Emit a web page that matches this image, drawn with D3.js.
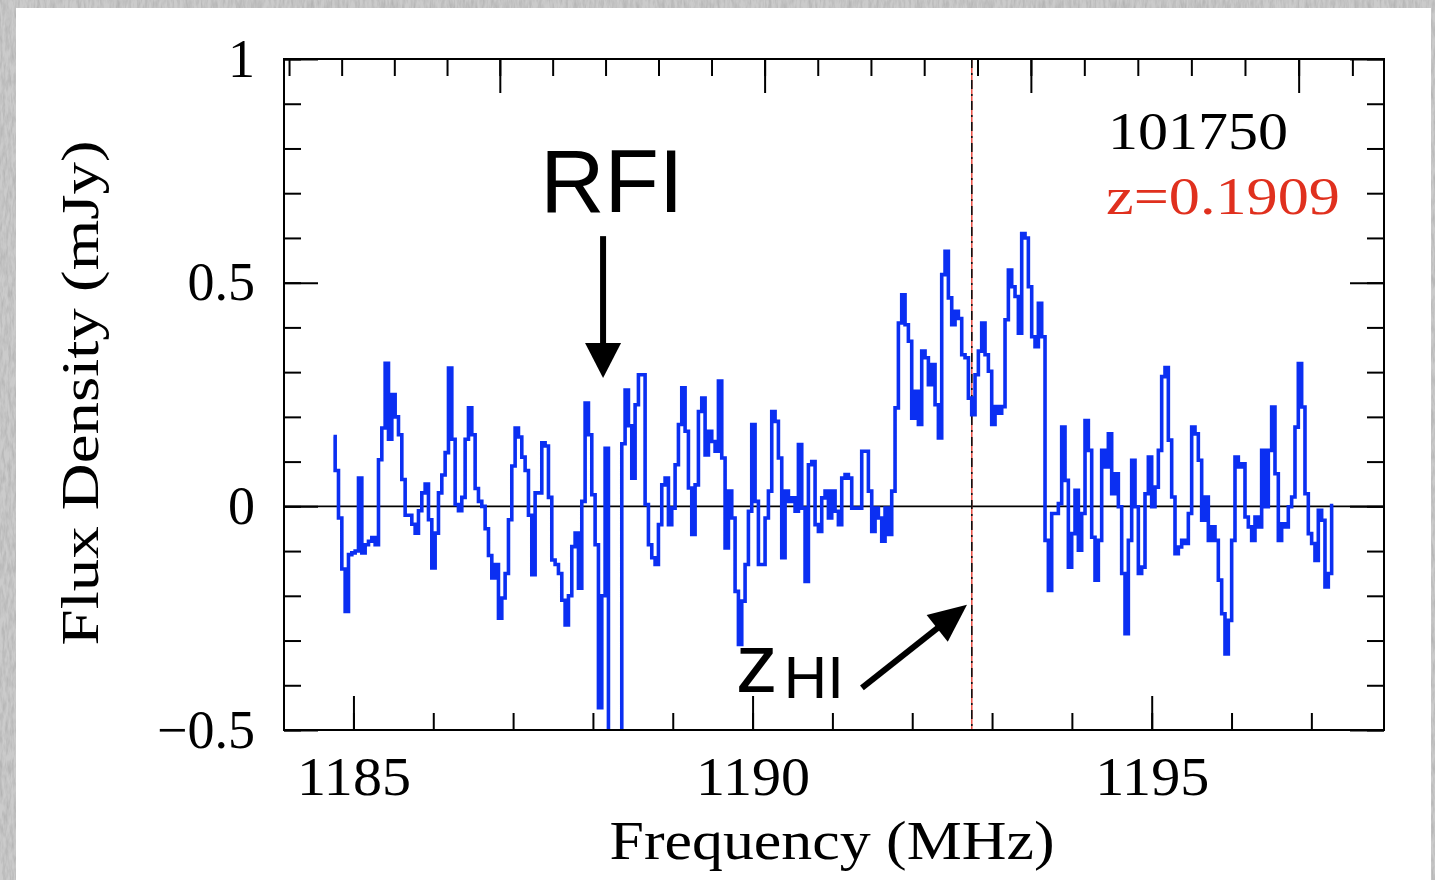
<!DOCTYPE html>
<html>
<head>
<meta charset="utf-8">
<script src="https://cdn.jsdelivr.net/npm/d3@7/dist/d3.min.js"></script>
<style>
  html, body { margin: 0; padding: 0; background: #c9c9c9; overflow: hidden; }
</style>
</head>
<body>
<script>
// HI spectrum of source 101750, channels
const freqStart = 1184.75;    // MHz, centre of first channel
const chanWidth = 0.04175;    // MHz per channel
const flux = [
  0.156, 0.08, -0.026, -0.14, -0.235, -0.108, -0.104, -0.1, 0.063, -0.104,
  -0.086, -0.078, -0.07, -0.086, 0.104, 0.175, 0.32, 0.15, 0.25, 0.2,
  0.16, 0.06, -0.02, -0.02, -0.04, -0.06, -0.01, 0.03, 0.05, -0.03,
  -0.138, -0.06, 0.03, 0.07, 0.12, 0.309, 0.15, 0.004, -0.01, 0.02,
  0.15, 0.22, 0.16, 0.04, 0.011, 0.0, -0.05, -0.11, -0.16, -0.13,
  -0.25, -0.205, -0.15, -0.03, 0.09, 0.175, 0.155, 0.11, 0.08, -0.02,
  -0.153, 0.03, 0.03, 0.142, 0.135, 0.02, -0.12, -0.13, -0.15, -0.21,
  -0.265, -0.2, -0.09, -0.06, -0.183, 0.011, 0.231, 0.16, 0.026, -0.086,
  -0.45, -0.2, 0.13, -0.9, -0.9, -0.9, -0.9, 0.14, 0.26, 0.18,
  0.063, 0.227, 0.294, 0.294, 0.004, -0.086, -0.115, -0.13, -0.041, 0.048,
  0.063, -0.041, -0.004, 0.093, 0.183, 0.265, 0.168, 0.041, -0.063, 0.048,
  0.212, 0.242, 0.115, 0.168, 0.145, 0.123, 0.28, 0.108, -0.093, 0.034,
  -0.026, -0.19, -0.309, -0.212, -0.13, -0.011, 0.183, 0.011, -0.13, -0.13,
  -0.026, 0.034, 0.212, 0.19, 0.108, -0.115, 0.034, 0.011, 0.019, -0.011,
  0.138, -0.004, -0.168, 0.093, 0.1, -0.041, -0.056, 0.019, 0.034, -0.026,
  0.034, -0.011, -0.041, 0.063, 0.071, 0.063, -0.004, -0.004, -0.004, 0.123,
  0.123, 0.034, -0.056, -0.004, -0.026, -0.078, -0.004, -0.063, 0.034, 0.22,
  0.41, 0.473, 0.406, 0.369, 0.197, 0.257, 0.183, 0.347, 0.332, 0.272,
  0.317, 0.227, 0.153, 0.518, 0.57, 0.466, 0.406, 0.436, 0.42, 0.339,
  0.332, 0.242, 0.205, 0.294, 0.347, 0.41, 0.339, 0.302, 0.183, 0.223,
  0.208, 0.223, 0.417, 0.528, 0.491, 0.469, 0.387, 0.61, 0.6, 0.491,
  0.379, 0.357, 0.454, 0.379, -0.076, -0.188, -0.016, -0.016, 0.006, 0.177,
  0.058, -0.136, -0.061, 0.036, -0.098, -0.016, 0.192, 0.125, -0.069, -0.165,
  -0.076, 0.125, 0.088, 0.162, 0.028, 0.073, -0.001, -0.15, -0.285, -0.076,
  0.103, -0.001, -0.15, -0.136, 0.028, 0.11, -0.001, 0.043, 0.125, 0.29,
  0.31, 0.148, 0.021, -0.106, -0.091, -0.076, -0.083, -0.016, 0.177, 0.162,
  0.103, -0.031, 0.021, -0.076, -0.046, -0.076, -0.165, -0.24, -0.33, -0.255,
  -0.076, 0.11, 0.088, 0.095, -0.024, -0.046, -0.076, -0.024, -0.046, 0.125,
  -0.001, 0.125, 0.222, 0.073, -0.076, -0.039, -0.046, -0.001, 0.021, 0.177,
  0.319, 0.222, 0.028, -0.061, -0.083, -0.121, -0.009, -0.031, -0.18, -0.15,
  0.002
];

const xMajorTicks = [1185, 1190, 1195];
const xMinorTicks = d3.range(1185, 1198, 1);
const yMajorTicks = [-0.5, 0, 0.5, 1];
const yMinorTicks = d3.range(-5, 11, 1).map(d => d / 10);
const yTickLabels = ["\u22120.5", "0", "0.5", "1"];
const velMajorTicks = [56000, 57000, 58000, 59000];   // km/s, top axis
const velMinorTicks = d3.range(55800, 59801, 200);
const sourceName = "101750";
const zHI = 0.19087;
const zLabel = "z=0.1909";

const restFreq = 1420.405751;   // MHz
const cLight = 299792.458;      // km/s
const velToFreq = v => restFreq / (1 + v / cLight);

const W = 1435, H = 880;
const plot = { left: 284, right: 1384, top: 59, bottom: 730 };
const serif = "'Liberation Serif', 'DejaVu Serif', serif";
const sans = "'Liberation Sans', Arial, sans-serif";

const svg = d3.select("body").append("svg")
  .attr("width", W).attr("height", H);

// textured grey backdrop and white slide panel
const defs = svg.append("defs");
const f = defs.append("filter").attr("id", "grain")
  .attr("x", 0).attr("y", 0).attr("width", "100%").attr("height", "100%");
f.append("feTurbulence").attr("type", "fractalNoise")
  .attr("baseFrequency", "0.35 0.08").attr("numOctaves", 3).attr("seed", 7);
f.append("feColorMatrix").attr("type", "matrix")
  .attr("values", "0 0 0 0 0.45  0 0 0 0 0.45  0 0 0 0 0.45  0 0 0 1.8 -0.6");
svg.append("rect").attr("width", W).attr("height", H).attr("fill", "#cbcbcb");
svg.append("rect").attr("width", W).attr("height", H).attr("filter", "url(#grain)");
svg.append("rect").attr("x", 16).attr("y", 8)
  .attr("width", 1415).attr("height", H - 8).attr("fill", "#fff");

defs.append("clipPath").attr("id", "plotClip").append("rect")
  .attr("x", plot.left).attr("y", plot.top)
  .attr("width", plot.right - plot.left).attr("height", plot.bottom - plot.top);

const x = d3.scaleLinear().domain([1184.13, 1197.91]).range([plot.left, plot.right]);
const y = d3.scaleLinear().domain([-0.5, 1]).range([plot.bottom, plot.top]);

const spectrum = flux.map((v, i) => ({ f: freqStart + i * chanWidth, v }));

// zero line
svg.append("line")
  .attr("x1", plot.left).attr("x2", plot.right)
  .attr("y1", y(0)).attr("y2", y(0))
  .attr("stroke", "#000").attr("stroke-width", 1.6);

// redshift marker
const fz = restFreq / (1 + zHI);
svg.append("line")
  .attr("x1", x(fz)).attr("x2", x(fz)).attr("y1", plot.top).attr("y2", plot.bottom)
  .attr("stroke", "#e8453a").attr("stroke-width", 1.4);
svg.append("line")
  .attr("x1", x(fz)).attr("x2", x(fz)).attr("y1", plot.top).attr("y2", plot.bottom)
  .attr("stroke", "#111").attr("stroke-width", 1.6)
  .attr("stroke-dasharray", "9,5,2,5");

// spectrum
svg.append("path")
  .datum(spectrum)
  .attr("clip-path", "url(#plotClip)")
  .attr("fill", "none")
  .attr("stroke", "#0b2ff2")
  .attr("stroke-width", 3.6)
  .attr("stroke-linejoin", "miter")
  .attr("d", d3.line().x(d => x(d.f)).y(d => y(d.v)).curve(d3.curveStep));

// axes: ticks point inwards, frame drawn separately
function styleAxis(g) {
  g.select(".domain").remove();
  g.selectAll(".tick line").attr("stroke", "#000").attr("stroke-width", 2);
}

svg.append("g").attr("transform", `translate(0,${plot.bottom})`)
  .call(d3.axisBottom(x).tickValues(xMinorTicks).tickSize(-17).tickFormat(""))
  .call(styleAxis);
svg.append("g").attr("transform", `translate(0,${plot.bottom})`)
  .call(d3.axisBottom(x).tickValues(xMajorTicks).tickSize(-34).tickPadding(27).tickFormat(d3.format("d")))
  .call(styleAxis)
  .call(g => g.selectAll("text").attr("font-family", serif).attr("font-size", 54).attr("fill", "#000")
    .attr("textLength", 114).attr("lengthAdjust", "spacingAndGlyphs"));

svg.append("g").attr("transform", `translate(0,${plot.top})`)
  .call(d3.axisTop(x).tickValues(velMinorTicks.map(velToFreq)).tickSize(-17).tickFormat(""))
  .call(styleAxis);
svg.append("g").attr("transform", `translate(0,${plot.top})`)
  .call(d3.axisTop(x).tickValues(velMajorTicks.map(velToFreq)).tickSize(-34).tickFormat(""))
  .call(styleAxis);

svg.append("g").attr("transform", `translate(${plot.left},0)`)
  .call(d3.axisLeft(y).tickValues(yMinorTicks).tickSize(-17).tickFormat(""))
  .call(styleAxis);
svg.append("g").attr("transform", `translate(${plot.left},0)`)
  .call(d3.axisLeft(y).tickValues(yMajorTicks).tickSize(-34).tickPadding(29)
    .tickFormat((d, i) => yTickLabels[i]))
  .call(styleAxis)
  .call(g => g.selectAll("text").attr("font-family", serif).attr("font-size", 54).attr("fill", "#000"));

svg.append("g").attr("transform", `translate(${plot.right},0)`)
  .call(d3.axisRight(y).tickValues(yMinorTicks).tickSize(-17).tickFormat(""))
  .call(styleAxis);
svg.append("g").attr("transform", `translate(${plot.right},0)`)
  .call(d3.axisRight(y).tickValues(yMajorTicks).tickSize(-34).tickFormat(""))
  .call(styleAxis);

svg.append("rect")
  .attr("x", plot.left).attr("y", plot.top)
  .attr("width", plot.right - plot.left).attr("height", plot.bottom - plot.top)
  .attr("fill", "none").attr("stroke", "#000").attr("stroke-width", 2);

// axis titles
svg.append("text")
  .attr("x", 832).attr("y", 859)
  .attr("text-anchor", "middle")
  .attr("font-family", serif).attr("font-size", 54)
  .attr("textLength", 445).attr("lengthAdjust", "spacingAndGlyphs")
  .text("Frequency (MHz)");
svg.append("text")
  .attr("transform", "translate(98,393) rotate(-90)")
  .attr("text-anchor", "middle")
  .attr("font-family", serif).attr("font-size", 52)
  .attr("textLength", 505).attr("lengthAdjust", "spacingAndGlyphs")
  .text("Flux Density (mJy)");

// source labels
svg.append("text")
  .attr("x", 1108).attr("y", 149)
  .attr("font-family", serif).attr("font-size", 52)
  .attr("textLength", 180).attr("lengthAdjust", "spacingAndGlyphs")
  .text(sourceName);
svg.append("text")
  .attr("x", 1106).attr("y", 214)
  .attr("font-family", serif).attr("font-size", 52).attr("fill", "#e0301e")
  .attr("textLength", 234).attr("lengthAdjust", "spacingAndGlyphs")
  .text(zLabel);

// annotations
function arrow(x1, y1, x2, y2, headLen, headHalf) {
  const dx = x2 - x1, dy = y2 - y1, len = Math.hypot(dx, dy);
  const ux = dx / len, uy = dy / len;
  const bx = x2 - ux * headLen, by = y2 - uy * headLen;
  svg.append("line")
    .attr("x1", x1).attr("y1", y1).attr("x2", bx + ux * 4).attr("y2", by + uy * 4)
    .attr("stroke", "#000").attr("stroke-width", 6);
  svg.append("path")
    .attr("d", `M${x2},${y2}L${bx - uy * headHalf},${by + ux * headHalf}L${bx + uy * headHalf},${by - ux * headHalf}Z`)
    .attr("fill", "#000");
}

svg.append("text")
  .attr("x", x(1187.34)).attr("y", y(0.658))
  .attr("font-family", sans).attr("font-size", 89)
  .text("RFI");
arrow(x(1188.127), y(0.604), x(1188.127), y(0.287), 35, 18);

const zt = svg.append("text")
  .attr("x", x(1189.79)).attr("y", y(-0.415))
  .attr("font-family", sans);
zt.append("tspan").attr("font-size", 84).text("z");
zt.append("tspan").attr("font-size", 60).attr("dy", 6).attr("dx", 6).text("HI");
arrow(x(1191.37), y(-0.406), x(1192.686), y(-0.22), 38, 17);
</script>
</body>
</html>
